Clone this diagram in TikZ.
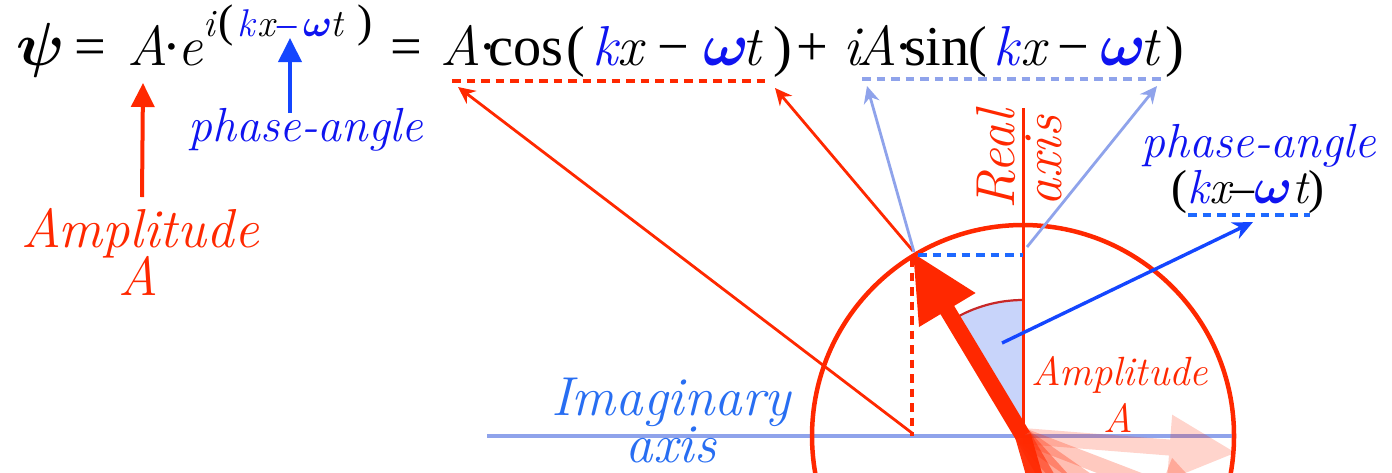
\documentclass[tikz,border=0pt]{standalone}
\usepackage{amsmath}
\usepackage{fontspec}
\setmainfont{Liberation Serif}
\usetikzlibrary{arrows.meta}
\definecolor{myred}{RGB}{255,40,0}
\definecolor{phblue}{RGB}{15,20,240}
\definecolor{arrblue}{RGB}{20,70,255}
\definecolor{dashblue}{RGB}{30,105,255}
\definecolor{lblue}{RGB}{143,163,235}
\definecolor{imblue}{RGB}{40,110,242}
\definecolor{wedgefill}{RGB}{200,212,250}
\definecolor{darkred}{RGB}{200,40,40}
\newcommand\lmi{\fontfamily{lmr}\fontshape{it}\selectfont}
\newcommand\bx[2]{\makebox[#1\dimexpr 0.01cm\relax][l]{#2}}
\newcommand\kb{\textcolor{phblue}{\lmi k}}
\newcommand\wb{\textcolor{phblue}{$\boldsymbol{\omega}$}}
\newcommand\bigpar[1]{{\fontsize{13}{15}\selectfont #1}}
\begin{document}
\begin{tikzpicture}[x=0.01cm,y=-0.01cm,
  every node/.style={inner sep=0pt, outer sep=0pt},
  eqfont/.style={font=\fontsize{16}{19}\selectfont},
  expfont/.style={font=\fontsize{11}{13}\selectfont},
  lblfont/.style={font=\fontsize{13.6}{16}\selectfont\lmi},
  bigfont/.style={font=\fontsize{15.6}{19}\selectfont\lmi},
  midfont/.style={font=\fontsize{11.6}{14}\selectfont\lmi},
  thinred/.style={draw=myred, line width=0.028cm, -{Stealth[length=0.17cm,width=0.16cm]}},
  thinlb/.style={draw=lblue, line width=0.028cm, -{Stealth[length=0.17cm,width=0.16cm]}},
  bigarrow/.style={line width=0.04cm, -{Triangle[length=0.24cm,width=0.23cm]}},
  dashline/.style={line width=0.032cm, dash pattern=on 0.085cm off 0.06cm}
]
\useasboundingbox (0,0) rectangle (1392,472);
\clip (0,0) rectangle (1392,472);

\coordinate (C) at (1023,436);
\coordinate (T) at (913,253);

% angle wedge
\fill[wedgefill] (C) -- (1023,300) arc[start angle=-90, end angle=-121, radius=136] -- cycle;
\draw[darkred, line width=0.022cm] (1023,300) arc[start angle=-90, end angle=-121, radius=136];

% axes
\coordinate (imL) at (487,436);
\coordinate (imR) at (1235,436);
\draw[lblue, line width=0.04cm] (imL) -- (imR);
\coordinate (reT) at (1023,108);
\draw[myred, line width=0.03cm] (reT) -- (C);

% circle
\draw[myred, line width=0.045cm] (C) circle[radius=211];

% ghost phasors
\foreach \ang/\op in {-4.5/0.2, -21/0.25, -35/0.3, -48/0.4, -60/0.55, -74/0.95}{
  \fill[myred, fill opacity=\op, shift={(C)}, rotate=\ang]
    (0,-8) -- (147,-8) -- (147,-33) -- (213,0) -- (147,33) -- (147,8) -- (0,8) -- cycle;
}
% main phasor
\fill[myred, shift={(C)}, rotate=121]
  (0,-8) -- (147,-8) -- (147,-33) -- (213,0) -- (147,33) -- (147,8) -- (0,8) -- cycle;

% projections
\coordinate (hb) at (918,255);
\draw[dashblue, dashline] (hb) -- (1023,255);
\coordinate (vt) at (912,258);
\coordinate (vb) at (912,436);
\draw[myred, dashline] (vt) -- (vb);

% dashed underlines
\coordinate (cosL) at (452,81);
\coordinate (cosR) at (768,81);
\draw[myred, dashline] (cosL) -- (cosR);
\coordinate (sinL) at (862,79);
\coordinate (sinR) at (1165,79);
\draw[lblue, dashline] (sinL) -- (sinR);
\coordinate (phL) at (1188,215);
\coordinate (phR) at (1310,215);
\draw[dashblue, dashline] (phL) -- (phR);

% thin arrows
\draw[thinred] (912,433) -- (458,87);
\draw[thinred] (913,251) -- (775,88);
\draw[thinlb] (914,252) -- (867,86);
\draw[thinlb] (1027,247) -- (1157,86);
\draw[arrblue, line width=0.034cm, -{Stealth[length=0.2cm,width=0.18cm]}] (1002,343) -- (1253,222);

% left arrows
\coordinate (a1s) at (142,197);
\coordinate (a1e) at (143,83);
\draw[myred, bigarrow] (a1s) -- (a1e);
\coordinate (a2s) at (290,113);
\coordinate (a2e) at (290,38);
\draw[arrblue, bigarrow] (a2s) -- (a2e);

% equation
\node[eqfont, anchor=base west] (eqA) at (17,65)
  {\bx{58}{$\boldsymbol{\psi}$}\bx{52}{=}\bx{35}{\lmi A}\bx{15}{·}\lmi e};
\node[expfont, anchor=base west] (eqE) at (203,36)
  {\bx{15}{\lmi i}\bx{19}{\bigpar{(}}\bx{20}{\kb}\bx{20}{\lmi x}\bx{26}{\textcolor{phblue}{–}}\bx{27}{\wb}\bx{27}{\lmi t}\bigpar{)}};
\node[eqfont, anchor=base west] (eqB) at (390,65) {=};
\node[eqfont, anchor=base west] (eqR) at (440,65)
  {\bx{38}{\lmi A}\bx{10}{·}\bx{79}{cos}\bx{25}{(}\bx{25}{\kb}\bx{40}{\lmi x}\bx{46}{−}\bx{39}{\wb}\bx{31}{\lmi t}\bx{24}{)}\bx{46}{+}\bx{13}{\lmi i}\bx{38}{\lmi A}\bx{10}{·}\bx{64}{sin}\bx{25}{(}\bx{27}{\kb}\bx{37}{\lmi x}\bx{43}{−}\bx{40}{\wb}\bx{25}{\lmi t})};

% labels
\node[bigfont, myred, anchor=base] (amp1) at (140,247) {Amplitude};
\node[bigfont, myred, anchor=base] (amp1A) at (138,295) {A};
\node[lblfont, phblue, anchor=base] (pa1) at (306,141) {phase-angle};
\node[lblfont, phblue, anchor=base] (pa2) at (1259,157) {phase-angle};
\node[font=\fontsize{13.6}{16}\selectfont, anchor=base] (pa2e) at (1248,203)
  {(\kb{\lmi x}–\wb{\lmi t})};
\node[bigfont, imblue, anchor=base] (im1) at (671,415) {Imaginary};
\node[bigfont, imblue, anchor=base] (im2) at (671,462) {axis};
\node[bigfont, myred, anchor=base, rotate=90] (re1) at (1014,160) {Real};
\node[bigfont, myred, anchor=base, rotate=90] (re2) at (1061,161) {axis};
\node[midfont, myred, anchor=base] (amp2) at (1120,385) {Amplitude};
\node[midfont, myred, anchor=base] (amp2A) at (1118,432) {A};
\end{tikzpicture}
\end{document}
